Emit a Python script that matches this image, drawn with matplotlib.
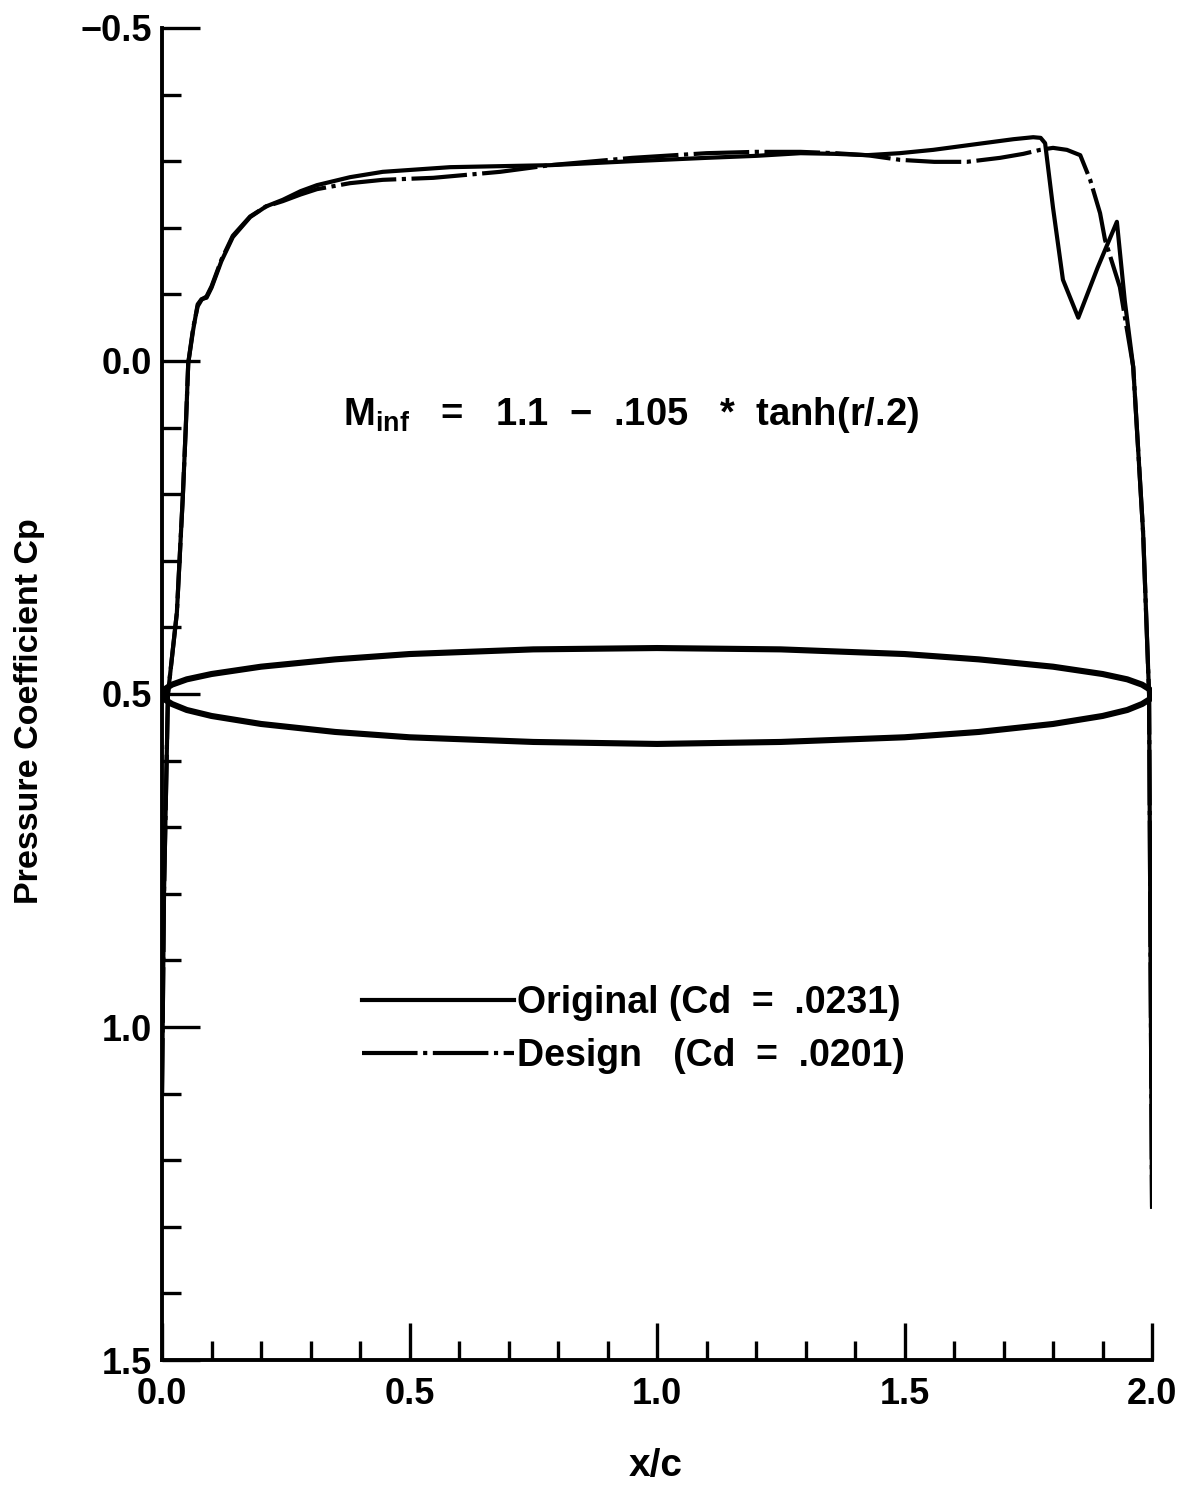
import matplotlib
matplotlib.use("Agg")
import matplotlib.pyplot as plt
import numpy as np
from matplotlib.ticker import MultipleLocator, FuncFormatter

plt.rcParams['font.family'] = ['Liberation Sans', 'DejaVu Sans']
plt.rcParams['font.weight'] = 'bold'
plt.rcParams['mathtext.fontset'] = 'custom'
plt.rcParams['mathtext.rm'] = 'Liberation Sans:bold'
plt.rcParams['mathtext.default'] = 'regular'
plt.rcParams['lines.scale_dashes'] = False

# ---- data ----
x_orig = [0.0, 0.004, 0.012, 0.03, 0.042, 0.048, 0.053, 0.063, 0.072, 0.08, 0.09, 0.1, 0.12,
          0.143, 0.178, 0.21, 0.244, 0.28, 0.313, 0.38, 0.446, 0.582, 0.784, 0.95, 1.1, 1.2,
          1.29, 1.36, 1.424, 1.49, 1.558, 1.659, 1.72, 1.76, 1.775, 1.784, 1.80, 1.82, 1.851,
          1.89, 1.929, 1.945, 1.962, 1.982, 1.994, 1.997, 2.0]
cp_orig = [1.1, 0.8, 0.5, 0.378, 0.204, 0.1, 0.003, -0.047, -0.085, -0.093, -0.095, -0.11, -0.15,
           -0.186, -0.216, -0.232, -0.242, -0.255, -0.264, -0.276, -0.284, -0.291, -0.294, -0.300,
           -0.305, -0.308, -0.312, -0.311, -0.309, -0.312, -0.317, -0.327, -0.333, -0.336, -0.335,
           -0.327, -0.23, -0.122, -0.065, -0.14, -0.209, -0.09, 0.009, 0.258, 0.5, 0.9, 1.27]

x_des = [0.0, 0.004, 0.012, 0.03, 0.042, 0.048, 0.053, 0.063, 0.072, 0.08, 0.09, 0.1, 0.12,
         0.143, 0.178, 0.21, 0.244, 0.28, 0.313, 0.38, 0.446, 0.548, 0.683, 0.784, 0.95, 1.1,
         1.2, 1.29, 1.36, 1.424, 1.491, 1.56, 1.626, 1.693, 1.74, 1.774, 1.8, 1.828, 1.855,
         1.875, 1.895, 1.905, 1.935, 1.962, 1.982, 1.994, 1.997, 2.0]
cp_des = [1.1, 0.8, 0.5, 0.378, 0.204, 0.1, 0.003, -0.05, -0.082, -0.092, -0.097, -0.112, -0.152,
          -0.188, -0.217, -0.232, -0.24, -0.25, -0.258, -0.267, -0.272, -0.275, -0.284, -0.294,
          -0.305, -0.312, -0.314, -0.314, -0.312, -0.309, -0.302, -0.299, -0.299, -0.305, -0.311,
          -0.317, -0.32, -0.317, -0.309, -0.272, -0.222, -0.182, -0.111, 0.009, 0.258, 0.5, 0.9, 1.27]

x_body = [0.0, 0.005, 0.02, 0.05, 0.1, 0.2, 0.35, 0.5, 0.75, 1.0, 1.25, 1.5, 1.65, 1.8, 1.9,
          1.95, 1.98, 1.995, 2.0]
cp_body_upper = [0.5, 0.493, 0.486, 0.478, 0.470, 0.459, 0.448, 0.440, 0.433, 0.431, 0.433,
                 0.440, 0.448, 0.459, 0.470, 0.478, 0.486, 0.493, 0.5]
cp_body_lower = [0.5, 0.508, 0.515, 0.524, 0.533, 0.545, 0.557, 0.565, 0.572, 0.575, 0.572,
                 0.565, 0.557, 0.545, 0.533, 0.524, 0.515, 0.508, 0.5]

labels = ['Original (Cd  =  .0231)', 'Design   (Cd  =  .0201)']
annotation = r'M$_{inf}$   =   1.1  $-$  .105   $*$  tanh(r/.2)'
xlabel = 'x/c'
ylabel = 'Pressure Coefficient Cp'

# ---- figure ----
fig = plt.figure(figsize=(11.8, 14.96), dpi=100)
ax = fig.add_axes([0.1373, 0.0909, 0.8390, 0.8904])

ax.plot(x_orig, cp_orig, color='black', lw=3.0, solid_joinstyle='round', label=labels[0])
ax.plot(x_des, cp_des, color='black', lw=3.0, linestyle=(0, (40, 4, 3, 4)), label=labels[1])
ax.plot(x_body, cp_body_upper, color='black', lw=4.4, solid_capstyle='round')
ax.plot(x_body, cp_body_lower, color='black', lw=4.4, solid_capstyle='round')

ax.set_xlim(0.0, 2.0)
ax.set_ylim(1.5, -0.5)

for s in ['top', 'right']:
    ax.spines[s].set_visible(False)
for s in ['left', 'bottom']:
    ax.spines[s].set_linewidth(2.8)

fmt = FuncFormatter(lambda v, p: ('%.1f' % v).replace('-', '\u2212'))
ax.xaxis.set_major_locator(MultipleLocator(0.5))
ax.xaxis.set_minor_locator(MultipleLocator(0.1))
ax.yaxis.set_major_locator(MultipleLocator(0.5))
ax.yaxis.set_minor_locator(MultipleLocator(0.1))
ax.xaxis.set_major_formatter(fmt)
ax.yaxis.set_major_formatter(fmt)
ax.tick_params(which='major', direction='in', length=27, width=2.4, labelsize=26, pad=7)
ax.tick_params(which='minor', direction='in', length=14, width=2.4)
ax.tick_params(axis='x', which='major', pad=12)

ax.set_xlabel(xlabel, fontsize=28, fontweight='bold')
ax.xaxis.set_label_coords(0.499, -0.066)
ax.set_ylabel(ylabel, fontsize=24.5, fontweight='bold')
ax.yaxis.set_label_coords(-0.118, 0.487)

ax.text(0.366, 0.096, annotation, fontsize=27.5, fontweight='bold', ha='left', va='baseline')

leg = ax.legend(loc='center left', bbox_to_anchor=(0.202, 0.2478), frameon=False,
                fontsize=27, handlelength=4.05, handletextpad=0.08, labelspacing=0.45,
                borderpad=0, borderaxespad=0)

fig.savefig('out.png', dpi=100, facecolor='white')
